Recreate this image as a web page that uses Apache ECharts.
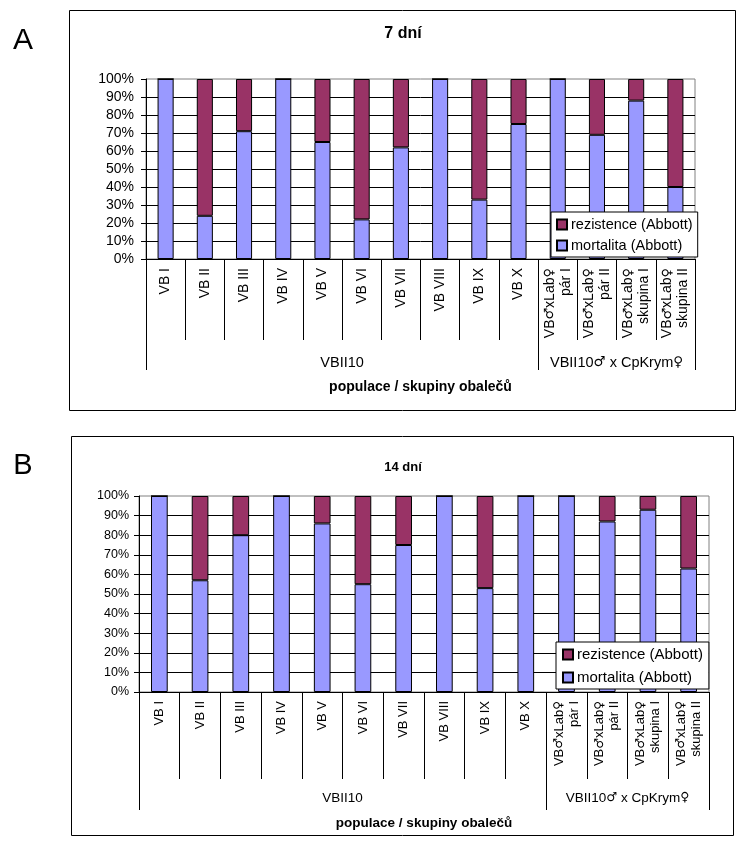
<!DOCTYPE html>
<html>
<head>
<meta charset="utf-8">
<script src="https://cdn.jsdelivr.net/npm/echarts@6/dist/echarts.min.js"></script>
<style>
  html, body { margin: 0; padding: 0; background: #fff; }
  #chart { width: 743px; height: 841px; }
</style>
</head>
<body>
<div id="chart"></div>
<script>
// ---- data ----
const categories = ['VB I', 'VB II', 'VB III', 'VB IV', 'VB V', 'VB VI', 'VB VII', 'VB VIII', 'VB IX', 'VB X',
  'VB♂xLab♀\npár I', 'VB♂xLab♀\npár II', 'VB♂xLab♀\nskupina I', 'VB♂xLab♀\nskupina II'];
const groupNames = ['VBII10', 'VBII10♂ x CpKrym♀'];
const groupSizes = [10, 4];
const seriesNames = ['mortalita (Abbott)', 'rezistence (Abbott)'];
const mortalita7 = [100, 24, 71, 100, 65, 22, 62, 100, 33, 75, 100, 69, 88, 40];
const rezistence7 = [0, 76, 29, 0, 35, 78, 38, 0, 67, 25, 0, 31, 12, 60];
const mortalita14 = [100, 57, 80, 100, 86, 55, 75, 100, 53, 100, 100, 87, 93, 63];
const rezistence14 = [0, 43, 20, 0, 14, 45, 25, 0, 47, 0, 0, 13, 7, 37];
const yTicks = [0, 10, 20, 30, 40, 50, 60, 70, 80, 90, 100];
const titles = ['7 dní', '14 dní'];
const panelLetters = ['A', 'B'];
const axisTitle = 'populace / skupiny obalečů';

// group boundaries & centres derived from group sizes
const bounds = [0];
groupSizes.forEach(s => bounds.push(bounds[bounds.length - 1] + s));
const centres = groupSizes.map((s, i) => bounds[i] + s / 2);

const FONT = '"Liberation Sans", Arial, sans-serif';
const SYMFONT = '"DejaVu Sans", sans-serif';
const BLUE = '#9999FF';
const MAROON = '#993366';
const sym = t => String(t).replace(/([♂♀])/g, '{s|$1}');

const panels = [
  { grid: { left: 146, right: 48, top: 79, height: 180 }, fs: 14, legFs: 14.5,
    tickLen: 81, groupLen: 111, groupMargin: 96, nameGap: 121, nameFs: 14, barW: '41%',
    legend: { left: 551, top: 212, padding: [5, 5, 4, 5], itemGap: 6 }, m: mortalita7, r: rezistence7 },
  { grid: { left: 139, right: 34, top: 496, height: 196 }, fs: 13, legFs: 15,
    tickLen: 87, groupLen: 118, groupMargin: 99, nameGap: 124, nameFs: 13.5, barW: '41%',
    legend: { left: 556, top: 642, padding: [5, 6, 4, 6], itemGap: 8 }, m: mortalita14, r: rezistence14 }
];

const option = {
  animation: false,
  textStyle: { fontFamily: FONT, color: '#000' },
  grid: [], xAxis: [], yAxis: [], series: [], legend: [],
  graphic: [
    { type: 'rect', shape: { x: 69.5, y: 10.5, width: 666, height: 400 }, style: { fill: 'none', stroke: '#000', lineWidth: 1 }, z: 0 },
    { type: 'rect', shape: { x: 71.5, y: 436.5, width: 662, height: 399 }, style: { fill: 'none', stroke: '#000', lineWidth: 1 }, z: 0 },
    { type: 'text', x: 23, y: 41, style: { text: panelLetters[0], font: '30px ' + FONT, fill: '#000', textAlign: 'center', textVerticalAlign: 'middle' } },
    { type: 'text', x: 23, y: 466, style: { text: panelLetters[1], font: '29px ' + FONT, fill: '#000', textAlign: 'center', textVerticalAlign: 'middle' } },
    { type: 'text', x: 403, y: 34, style: { text: titles[0], font: 'bold 16px ' + FONT, fill: '#000', textAlign: 'center', textVerticalAlign: 'middle' } },
    { type: 'text', x: 403, y: 467, style: { text: titles[1], font: 'bold 13px ' + FONT, fill: '#000', textAlign: 'center', textVerticalAlign: 'middle' } }
  ]
};

panels.forEach((p, i) => {
  option.grid.push(Object.assign({ show: true, borderColor: '#808080', borderWidth: 1, backgroundColor: '#fff' }, p.grid));
  // category axis
  option.xAxis.push({
    type: 'category', gridIndex: i, data: categories, position: 'bottom',
    axisLine: { lineStyle: { color: '#000', width: 1 } },
    axisTick: { show: true, interval: 0, length: p.tickLen, lineStyle: { color: '#000' } },
    axisLabel: { interval: 0, rotate: 90, margin: 9, fontSize: p.fs, lineHeight: p.fs + 2, color: '#000', fontFamily: FONT,
      formatter: sym,
      rich: { s: { fontFamily: SYMFONT, fontSize: p.fs - 1, lineHeight: p.fs + 2, color: '#000' } } }
  });
  // group axis
  option.xAxis.push({
    type: 'value', gridIndex: i, min: 0, max: categories.length, position: 'bottom',
    axisLine: { show: false }, splitLine: { show: false },
    axisTick: { show: true, customValues: bounds, length: p.groupLen, lineStyle: { color: '#000' } },
    axisLabel: { customValues: centres, margin: p.groupMargin, fontSize: p.fs + 0.5, color: '#000', fontFamily: FONT,
      formatter: v => sym(groupNames[centres.indexOf(v)]),
      rich: { s: { fontFamily: SYMFONT, fontSize: p.fs - 0.5, color: '#000' } } },
    name: axisTitle, nameLocation: 'middle', nameGap: p.nameGap,
    nameTextStyle: { fontWeight: 'bold', fontSize: p.nameFs, color: '#000', fontFamily: FONT }
  });
  option.yAxis.push({
    type: 'value', gridIndex: i, min: yTicks[0], max: yTicks[yTicks.length - 1], interval: yTicks[1] - yTicks[0],
    axisLine: { show: true, lineStyle: { color: '#000' } },
    axisTick: { show: true, length: 5, lineStyle: { color: '#000' } },
    axisLabel: { formatter: '{value}%', margin: i === 0 ? 12 : 10, fontSize: i === 0 ? 14 : 12.5, color: '#000', fontFamily: FONT },
    splitLine: { show: true, showMaxLine: false, lineStyle: { color: '#000', width: 1 } }
  });
  option.series.push({
    name: seriesNames[0], type: 'bar', stack: 's' + i, xAxisIndex: i * 2, yAxisIndex: i, data: p.m,
    barWidth: p.barW, itemStyle: { color: BLUE, borderColor: '#000', borderWidth: 1 }
  });
  option.series.push({
    name: seriesNames[1], type: 'bar', stack: 's' + i, xAxisIndex: i * 2, yAxisIndex: i, data: p.r,
    barWidth: p.barW, itemStyle: { color: MAROON, borderColor: '#000', borderWidth: 1 }
  });
  option.legend.push(Object.assign({
    orient: 'vertical', data: [seriesNames[1], seriesNames[0]],
    backgroundColor: '#fff', borderColor: '#000', borderWidth: 1,
    itemWidth: 10, itemHeight: 10, icon: 'rect',
    textStyle: { fontSize: p.legFs, color: '#000', fontFamily: FONT, padding: [0, 0, 0, -1] },
    selectedMode: false
  }, p.legend));
});

const chart = echarts.init(document.getElementById('chart'), null, { renderer: 'canvas' });
chart.setOption(option);
</script>
</body>
</html>
